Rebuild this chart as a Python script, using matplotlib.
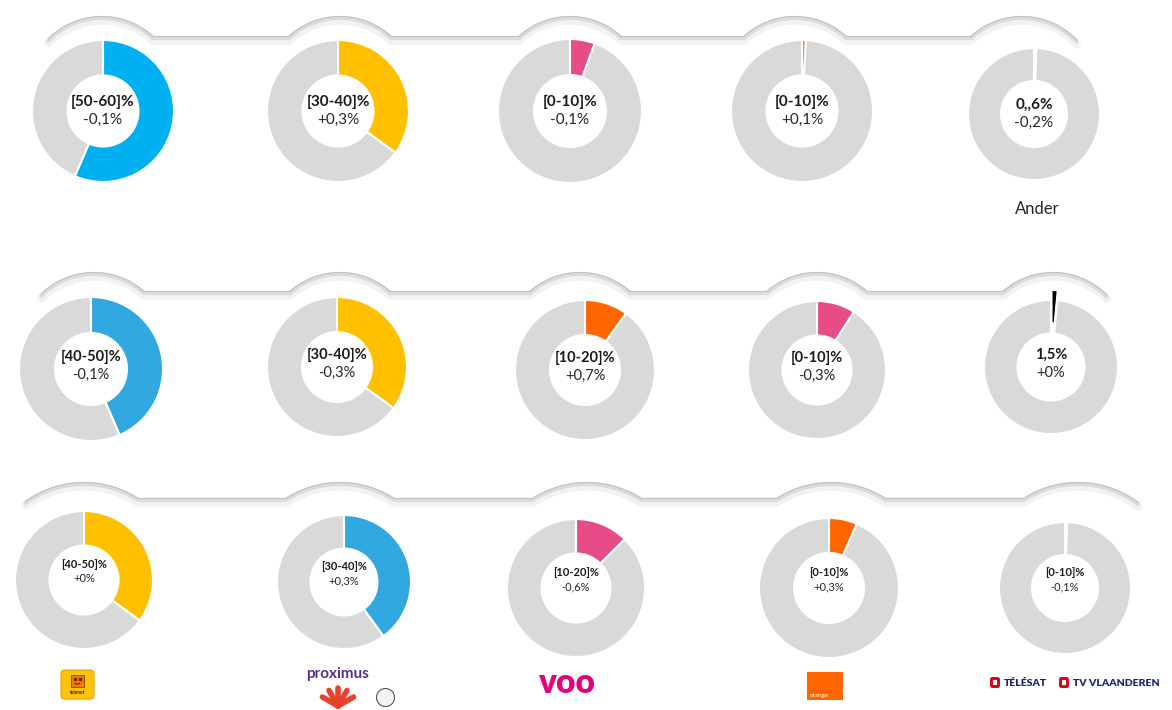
import numpy as np
import matplotlib
matplotlib.use("Agg")
import matplotlib.pyplot as plt
from matplotlib.patches import FancyBboxPatch, Rectangle, Arc

W, H = 1172, 710

# shares (%) of the highlighted operator in each donut, one list per row
row1_share = [56.5, 35, 5.6, 0.9, 0.6]
row2_share = [43.5, 35, 10, 9, 1.5]
row3_share = [35, 40, 12.5, 6.5, 0.5]

row1_range = ['[50-60]%', '[30-40]%', '[0-10]%', '[0-10]%', '0,,6%']
row2_range = ['[40-50]%', '[30-40]%', '[10-20]%', '[0-10]%', '1,5%']
row3_range = ['[40-50]%', '[30-40]%', '[10-20]%', '[0-10]%', '[0-10]%']

row1_change = ['-0,1%', '+0,3%', '-0,1%', '+0,1%', '-0,2%']
row2_change = ['-0,1%', '-0,3%', '+0,7%', '-0,3%', '+0%']
row3_change = ['+0%', '+0,3%', '-0,6%', '+0,3%', '-0,1%']

GREY = '#D9D9D9'
row1_colors = ['#00B0F0', '#FFC000', '#E84C88', '#F0823C', GREY]
row2_colors = ['#31A8E0', '#FFC000', '#FF6600', '#E84C88', '#000000']
row3_colors = ['#FFC000', '#31A8E0', '#E84C88', '#FF6600', GREY]

# layout (pixel coords, y downwards)
row1_centers = [(103, 111), (338, 111), (570, 111), (802, 111), (1034, 114)]
row2_centers = [(91, 369), (337, 367), (585, 370), (817, 370), (1051, 367)]
row3_centers = [(84, 580), (344, 582), (576, 588), (829, 588), (1065, 588)]
row1_radius = [71, 71, 72, 71, 66]
row2_radius = [72, 70, 70, 69, 67]
row3_radius = [69, 67, 69, 70, 66]
row2_explode = [0, 0, 0, 0, 10]

rows = [
    dict(share=row1_share, rng=row1_range, chg=row1_change, col=row1_colors,
         cen=row1_centers, rad=row1_radius, exp=[0] * 5, fs=11, dy=(-9, 9),
         band=(18, 38, 75), arcs=[102, 340, 570, 795, 1022]),
    dict(share=row2_share, rng=row2_range, chg=row2_change, col=row2_colors,
         cen=row2_centers, rad=row2_radius, exp=row2_explode, fs=10.5, dy=(-12, 6),
         band=(274, 293, 75), arcs=[94, 340, 580, 817, 1053]),
    dict(share=row3_share, rng=row3_range, chg=row3_change, col=row3_colors,
         cen=row3_centers, rad=row3_radius, exp=[0] * 5, fs=8, dy=(-15, -1),
         band=(484, 500, 100), arcs=[84, 340, 587, 831, 1078]),
]

plt.rcParams['font.family'] = ['Lato', 'DejaVu Sans']

fig = plt.figure(figsize=(W / 100, H / 100), dpi=100)
ax = fig.add_axes([0, 0, 1, 1])


def Y(y):
    return H - y


def band(peak, level, R, xs):
    # wavy grey ribbon: an arc over each donut joined by straight runs
    yc = peak + R
    half = np.sqrt(R ** 2 - (yc - level) ** 2)
    px, py = [], []
    for i, xc in enumerate(xs):
        a0 = np.arcsin(half / R)
        a_left = a0 + (0.05 if i == 0 else 0)
        a_right = a0 + (0.07 if i == len(xs) - 1 else 0)
        t = np.linspace(-a_left, a_right, 60)
        px.extend(xc + R * np.sin(t))
        py.extend(yc - R * np.cos(t))
    px = np.array(px)
    py = np.array(py)
    ax.plot(px, Y(py + 2.5), color='#f2f2f2', lw=6, solid_capstyle='round', zorder=1)
    ax.plot(px, Y(py), color='#dcdcdc', lw=3, solid_capstyle='round', zorder=2)
    ax.plot(px, Y(py - 1.5), color='#c2c2c2', lw=0.8, solid_capstyle='round', zorder=3)


for r in rows:
    band(*r['band'], r['arcs'])
    for i in range(5):
        cx, cy = r['cen'][i]
        rad = r['rad'][i]
        v = r['share'][i]
        ax.pie([v, 100 - v], colors=[r['col'][i], GREY], startangle=90,
               counterclock=False, radius=rad, center=(cx, Y(cy)),
               explode=[r['exp'][i], 0],
               wedgeprops=dict(width=rad * 0.5, edgecolor='white', linewidth=1.5))
        ax.text(cx, Y(cy + r['dy'][0]), r['rng'][i], ha='center', va='center',
                fontsize=r['fs'], fontweight='bold', color='#1a1a1a')
        ax.text(cx, Y(cy + r['dy'][1]), r['chg'][i], ha='center', va='center',
                fontsize=r['fs'], color='#262626')

ax.text(1037, Y(209), 'Ander', ha='center', va='center', fontsize=12, color='#262626')

# operator logos along the bottom
ax.add_patch(FancyBboxPatch((61, Y(699)), 33, 29, boxstyle='round,pad=0,rounding_size=4',
                            fc='#FFC20E', ec='#E8A200', lw=0.8))
ax.add_patch(Rectangle((71, Y(687)), 13, 12, fc='#F07D00', ec='#8a4a00', lw=0.6))
ax.plot([75, 80], [Y(679), Y(679)], ls='none', marker='s', ms=1.5, color='#5a2d00')
ax.add_patch(Arc((77.5, Y(682)), 6, 4, theta1=200, theta2=340, color='#5a2d00', lw=0.8))
ax.text(77.5, Y(693), 'telenet', ha='center', va='center', fontsize=3.5,
        fontweight='bold', color='#3a2a00')

ax.text(338, Y(674), 'proximus', ha='center', va='center', fontsize=11,
        fontweight='bold', color='#5C2D91')
for ang in np.linspace(-60, 60, 5):
    t = np.radians(ang)
    ax.plot([338, 338 + 18 * np.sin(t)], [Y(706), Y(706 - 18 * np.cos(t))],
            color='#E8412C', lw=4, solid_capstyle='round')
ax.plot(385, Y(697), marker='o', ms=13, mfc='#f4f4f4', mec='#555555', mew=0.8)
ax.add_patch(Arc((385, Y(697)), 9, 7, theta1=30, theta2=300, color='#666666', lw=0.7))

ax.text(567, Y(683), 'voo', ha='center', va='center', fontsize=24,
        fontweight='heavy', color='#E6007E')

ax.add_patch(Rectangle((807, Y(700)), 36, 28, fc='#FF6600', ec='none'))
ax.text(810, Y(696), 'orange', ha='left', va='center', fontsize=4.5, color='white')

for x0, label in [(990, 'TÉLÉSAT'), (1059, 'TV VLAANDEREN')]:
    ax.add_patch(FancyBboxPatch((x0, Y(688)), 10, 11, boxstyle='round,pad=0,rounding_size=2.5',
                                fc='#E2001A', ec='none'))
    ax.add_patch(Rectangle((x0 + 3, Y(685)), 4, 5, fc='white', ec='none'))
    ax.text(x0 + 14, Y(683), label, ha='left', va='center', fontsize=7.5,
            fontweight='heavy', color='#1B2A6B')

ax.set_xlim(0, W)
ax.set_ylim(0, H)
ax.set_aspect('equal')
ax.axis('off')

fig.savefig('out.png', dpi=100, facecolor='white')
